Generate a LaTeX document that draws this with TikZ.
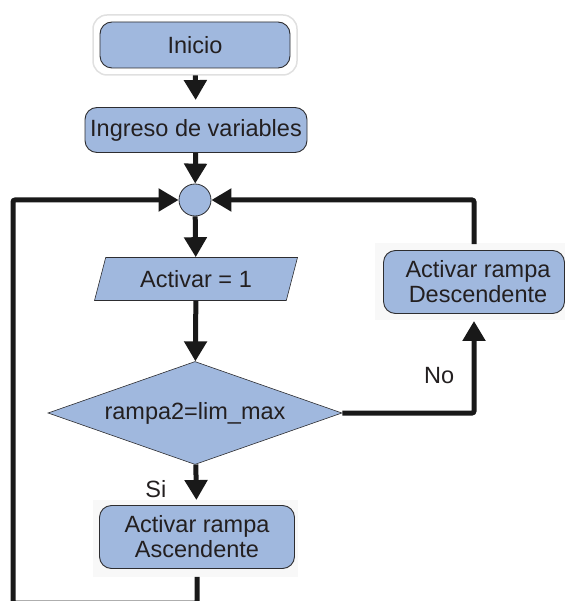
\documentclass[tikz,border=0pt]{standalone}
\usepackage{fontspec}
\setmainfont{Liberation Sans}
\usetikzlibrary{shapes.geometric, arrows.meta, positioning, calc}
\usepackage{xcolor}
\definecolor{flowBlue}{RGB}{160, 184, 222}
\definecolor{edgeGray}{RGB}{45, 45, 48}
\definecolor{inkDark}{RGB}{35, 31, 32}
\definecolor{haloGray}{RGB}{248, 248, 248}

\begin{document}
\begin{tikzpicture}[
    x=1pt, y=-1pt,
    every node/.style={font=\fontsize{23.5}{25}\selectfont, text=inkDark},
    box/.style={rectangle, draw=edgeGray, fill=flowBlue, line width=0.9pt, rounded corners=12pt, align=center, inner sep=0pt},
    io/.style={trapezium, trapezium left angle=57, trapezium right angle=123, trapezium stretches body, draw=edgeGray, fill=flowBlue, line width=0.6pt, inner sep=0pt, minimum width=203pt, minimum height=43pt},
    decision/.style={diamond, draw=edgeGray, fill=flowBlue, line width=0.6pt, inner sep=0pt, aspect=2.85, minimum width=294pt, minimum height=103pt},
    joint/.style={circle, draw=edgeGray, fill=flowBlue, line width=0.8pt, inner sep=0pt, minimum size=32pt},
    arrow/.style={-{Triangle[width=22pt, length=20pt]}, line width=5pt, black!90}
]

% frame of the page
\clip (0,0) rectangle (565,601);

% soft halos behind some of the boxes
\draw[draw=black!12, fill=white, line width=1.5pt, rounded corners=14pt] (93,15) rectangle (297,75);
\fill[haloGray] (375,243) rectangle (565,320);
\fill[haloGray] (93,500) rectangle (298,577);

% Nodes laid out top to bottom
\node[box, minimum width=190pt, minimum height=46pt] (inicio)   at (195,45)  {Inicio};
\node[box, minimum width=222pt, minimum height=45pt] (ingreso)  at (196,130) {Ingreso de variables};
\node[joint] (junta) at (195,200) {};
\node[io] (activar) at (196,279) {Activar = 1};
\node[decision] (limite) at (195,413) {rampa2=lim\_max};
\node[box, minimum width=181pt, minimum height=63pt] (descendente) at (474,282) {\hspace*{8pt}Activar rampa\\\hspace*{8pt}Descendente};
\node[box, minimum width=195pt, minimum height=63pt] (ascendente)  at (197,537) {Activar rampa\\Ascendente};
\coordinate (vuelta) at (13,603);

% Paths
\draw[arrow, shorten <=7pt, shorten >=7pt] (inicio) -- (ingreso);
\draw[arrow] (ingreso) -- (junta);
\draw[arrow] (junta) -- (activar);
\draw[arrow] (activar) -- (limite);
\draw[arrow, shorten >=5pt] (limite) -- node[left=24pt, pos=0.6] {Si} (ascendente);

% No branch goes up to the right box
\draw[arrow, shorten >=7pt, rounded corners=2pt] (limite.east) -| node[pos=0.69, left=14pt] {No} (descendente.south);

% both loops come back to the junction
\draw[arrow, shorten <=6pt, rounded corners=2pt] (descendente.north) |- (junta.east);
\draw[arrow, shorten <=8pt, rounded corners=2pt] (ascendente.south) |- (vuelta) |- (junta.west);

\end{tikzpicture}
\end{document}
